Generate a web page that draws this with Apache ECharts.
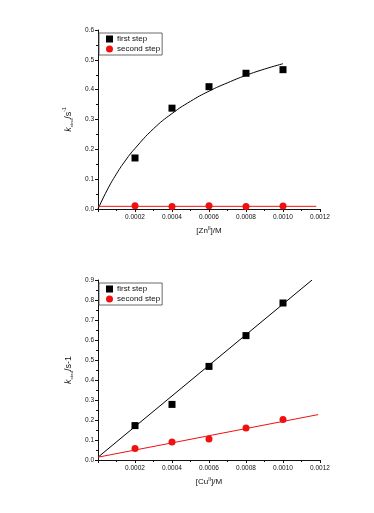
<!DOCTYPE html>
<html>
<head>
<meta charset="utf-8">
<script src="https://cdn.jsdelivr.net/npm/echarts@6/dist/echarts.min.js"></script>
<style>
  html, body { margin: 0; padding: 0; background: #fff; }
  #chart { width: 374px; height: 513px; }
</style>
</head>
<body>
<div id="chart"></div>
<script>
// concentrations [M]
var conc = [0.0002, 0.0004, 0.0006, 0.0008, 0.0010];

// Zn(II) panel
var znFirst = [0.171, 0.338, 0.410, 0.455, 0.467];
var znSecond = [0.011, 0.008, 0.011, 0.008, 0.010];
var znFitX = [0, 0.00005, 0.0001, 0.00015, 0.0002, 0.0003, 0.0004, 0.0005, 0.0006, 0.0007, 0.0008, 0.0009, 0.0010];
var znFitY = [0, 0.064, 0.118, 0.164, 0.203, 0.269, 0.320, 0.361, 0.395, 0.423, 0.448, 0.469, 0.487];
var znFit2X = [0, 0.00118];
var znFit2Y = [0.009, 0.009];

// Cu(II) panel
var cuFirst = [0.172, 0.278, 0.468, 0.622, 0.785];
var cuSecond = [0.058, 0.090, 0.105, 0.160, 0.203];
var cuFitX = [0, 0.001157];
var cuFitY = [0.014, 0.900];
var cuFit2X = [0, 0.00119];
var cuFit2Y = [0.014, 0.227];

function pairs(xs, ys) {
  return xs.map(function (x, i) { return [x, ys[i]]; });
}

var FONT = 'Liberation Sans';
var INK = '#111';

function xAxis(idx, name) {
  return {
    type: 'value', gridIndex: idx, min: 0, max: 0.0012, interval: 0.0002,
    name: name, nameLocation: 'middle', nameGap: 17,
    nameTextStyle: {
      fontFamily: FONT, fontSize: 8, color: INK,
      rich: { sup: { fontSize: 5, verticalAlign: 'top', lineHeight: 10, fontFamily: FONT, color: INK },
              n: { fontSize: 8, lineHeight: 10, fontFamily: FONT, color: INK } }
    },
    axisLine: { lineStyle: { color: INK, width: 1 } },
    axisTick: { length: 3, lineStyle: { color: INK } },
    minorTick: { show: true, splitNumber: 2, length: 2, lineStyle: { color: INK } },
    splitLine: { show: false },
    axisLabel: {
      fontFamily: FONT, fontSize: 6.5, color: INK, margin: 5,
      formatter: function (v) { return v === 0 ? '' : v.toFixed(4); }
    }
  };
}

function yAxis(idx, max, richName) {
  return {
    type: 'value', gridIndex: idx, min: 0, max: max, interval: 0.1,
    name: richName, nameLocation: 'middle', nameGap: 15, nameRotate: 90,
    nameTextStyle: {
      fontFamily: FONT, color: INK,
      rich: {
        k: { fontSize: 9, fontStyle: 'italic', fontFamily: FONT, lineHeight: 12, color: INK },
        sub: { fontSize: 4, verticalAlign: 'bottom', fontFamily: FONT, lineHeight: 12, color: INK },
        n: { fontSize: 9, fontFamily: FONT, lineHeight: 12, color: INK },
        sup: { fontSize: 5, verticalAlign: 'top', fontFamily: FONT, lineHeight: 12, color: INK }
      }
    },
    axisLine: { show: true, lineStyle: { color: INK, width: 1 } },
    axisTick: { show: true, length: 3, lineStyle: { color: INK } },
    minorTick: { show: true, splitNumber: 2, length: 2, lineStyle: { color: INK } },
    splitLine: { show: false },
    axisLabel: {
      fontFamily: FONT, fontSize: 6.5, color: INK, margin: 4,
      formatter: function (v) { return v.toFixed(1); }
    }
  };
}

function legend(top) {
  return {
    data: [{ name: 'first step', icon: 'rect' }, { name: 'second step', icon: 'circle' }],
    orient: 'vertical', left: 99, top: top,
    itemWidth: 7, itemHeight: 7, itemGap: 2,
    padding: [2, 2, 2, 7],
    borderColor: '#444', borderWidth: 0.8,
    textStyle: { fontFamily: FONT, fontSize: 8, color: INK, padding: [0, 0, 0, -1] },
    selectedMode: false
  };
}

var RED = '#f01010';

var chart = echarts.init(document.getElementById('chart'));
chart.setOption({
  animation: false,
  backgroundColor: '#fff',
  grid: [
    { left: 98, top: 30, width: 222, height: 179 },
    { left: 98, top: 280, width: 222, height: 180 }
  ],
  xAxis: [xAxis(0, '[Zn{sup|II}]/M'), xAxis(1, '[Cu{sup|II}]/M')],
  yAxis: [
    yAxis(0, 0.6, '{k|k}{sub|obsd}{n|/s}{sup|-1}'),
    yAxis(1, 0.9, '{k|k}{sub|obsd}{n|/s}{n|-1}')
  ],
  legend: [legend(33), legend(283)],
  series: [
    { name: 'fit Zn 1', type: 'line', xAxisIndex: 0, yAxisIndex: 0, smooth: true, showSymbol: false,
      lineStyle: { color: '#000', width: 1 }, data: pairs(znFitX, znFitY), z: 1 },
    { name: 'fit Zn 2', type: 'line', xAxisIndex: 0, yAxisIndex: 0, showSymbol: false,
      lineStyle: { color: RED, width: 1 }, data: pairs(znFit2X, znFit2Y), z: 1 },
    { name: 'first step', type: 'scatter', xAxisIndex: 0, yAxisIndex: 0, symbol: 'rect', symbolSize: 7,
      itemStyle: { color: '#000', opacity: 1 }, data: pairs(conc, znFirst) },
    { name: 'second step', type: 'scatter', xAxisIndex: 0, yAxisIndex: 0, symbol: 'circle', symbolSize: 7,
      itemStyle: { color: RED, opacity: 1 }, data: pairs(conc, znSecond) },

    { name: 'fit Cu 1', type: 'line', xAxisIndex: 1, yAxisIndex: 1, showSymbol: false,
      lineStyle: { color: '#000', width: 1 }, data: pairs(cuFitX, cuFitY), z: 1 },
    { name: 'fit Cu 2', type: 'line', xAxisIndex: 1, yAxisIndex: 1, showSymbol: false,
      lineStyle: { color: RED, width: 1 }, data: pairs(cuFit2X, cuFit2Y), z: 1 },
    { name: 'first step', type: 'scatter', xAxisIndex: 1, yAxisIndex: 1, symbol: 'rect', symbolSize: 7,
      itemStyle: { color: '#000', opacity: 1 }, data: pairs(conc, cuFirst) },
    { name: 'second step', type: 'scatter', xAxisIndex: 1, yAxisIndex: 1, symbol: 'circle', symbolSize: 7,
      itemStyle: { color: RED, opacity: 1 }, data: pairs(conc, cuSecond) }
  ]
});
</script>
</body>
</html>
